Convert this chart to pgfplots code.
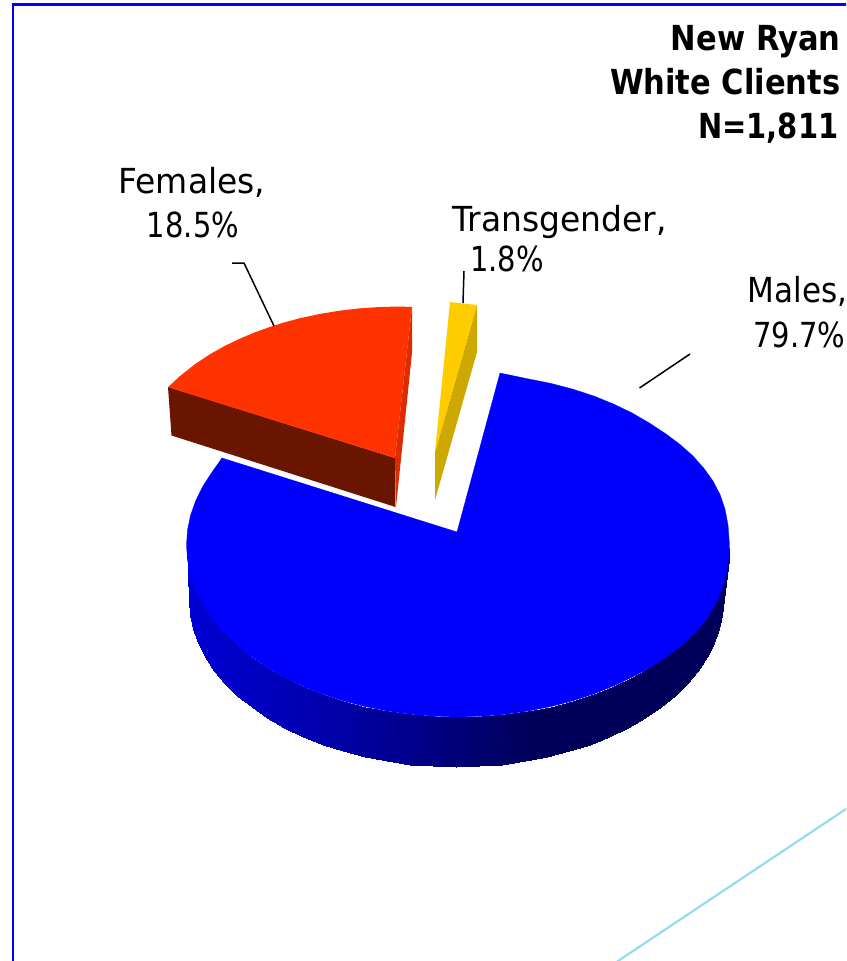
\documentclass[border=0pt]{standalone}
\usepackage{fontspec}
\setmainfont[FakeStretch=0.955,BoldFeatures={FakeStretch=0.885}]{DejaVu Sans}
\newfontfamily\numfont[FakeStretch=0.84]{DejaVu Sans}
\newfontfamily\malefont[FakeStretch=0.90]{DejaVu Sans}
\newfontfamily\boldnum[FakeStretch=0.84]{DejaVu Sans Bold}
\usepackage{pgfplots}
\pgfplotsset{compat=1.18}
\definecolor{redtop}{RGB}{255,51,0}
\definecolor{reddark}{RGB}{106,21,0}
\definecolor{redin}{RGB}{221,44,0}
\definecolor{yeltop}{RGB}{255,204,0}
\definecolor{yeldark}{RGB}{204,168,0}
\definecolor{linecol}{RGB}{140,218,243}
\begin{document}
\begin{tikzpicture}
\begin{axis}[
  name=a,
  scale only axis, width=846pt, height=961pt,
  xmin=0, xmax=846, ymin=0, ymax=961,
  y dir=reverse, hide axis, clip=true,
  colormap={blues}{rgb255(0cm)=(0,0,90); rgb255(1cm)=(0,0,215)},
  point meta min=90, point meta max=215,
  every node/.style={inner sep=0pt, outer sep=0pt},
]
% frame and stray line
\addplot[blue, line width=2.6pt] coordinates {(13,965) (13,4.5) (850,4.5)};
\addplot[linecol, line width=2pt] coordinates {(852,805) (612,965)};
% male side wall
\addplot[surf, shader=interp, mesh/rows=2, mesh/ordering=x varies, point meta=explicit] table[x=x,y=y,meta=c] {
x y c
186.5 545 215
187.5 560 214
190.6 574.9 213
195.8 589.5 211
202.9 603.8 209
211.9 617.7 206
222.9 631 202
235.6 643.7 198
250 655.6 194
266 666.6 189
283.5 676.8 184
302.3 685.9 178
322.2 694 172
343.3 700.9 165
365.1 706.6 157
387.7 711.1 149
410.9 714.4 140
434.3 716.3 130
458 717 120
481.7 716.3 110
505.1 714.4 100
528.3 711.1 92
550.9 706.6 90
572.7 700.9 90
593.8 694 90
613.7 685.9 90
632.5 676.8 90
650 666.6 90
666 655.6 90
680.4 643.7 90
693.1 631 90
704.1 617.7 90
713.1 603.8 90
720.2 589.5 90
725.4 574.9 90
728.5 560 90
729.5 545 90
189 600 215
190 614.6 214
193.1 629 213
198.1 643.2 211
205.1 657.1 209
214 670.6 206
224.8 683.5 202
237.3 695.8 198
251.5 707.4 194
267.2 718.1 189
284.4 727.9 184
302.8 736.8 178
322.5 744.6 172
343.2 751.4 165
364.7 756.9 157
386.9 761.3 149
409.6 764.5 140
432.7 766.4 130
456 767 120
479.3 766.4 110
502.4 764.5 100
525.1 761.3 92
547.3 756.9 90
568.8 751.4 90
589.5 744.6 90
609.2 736.8 90
627.6 727.9 90
644.8 718.1 90
660.5 707.4 90
674.7 695.8 90
687.2 683.5 90
698 670.6 90
706.9 657.1 90
713.9 643.2 90
718.9 629 90
722 614.6 90
723 600 90
};
% male top face
\addplot[fill=blue, draw=blue, line width=0.3pt] coordinates {
(457,532) (500,373) (528.3,378.9) (550.9,383.4) (572.7,389.1) (593.8,396) (613.7,404.1) (632.5,413.2) (650,423.4) (666,434) (680,444.5) (693,456) (704,468.5) (713,481) (720,494.5) (725,509) (728,525) (729.5,545)
(729,557) (727,571) (723,587) (717,601) (707,618.5) (693.5,634.5) (680,646.5) (666,657) (650,667.5) (632.5,677) (613.7,685.9) (593.8,694) (572.7,700.9) (550.9,706.6) (528.3,711.1) (505.1,714.4) (481.7,716.3) (458,717)
(434.3,716.3) (410.9,714.4) (387.7,711.1) (365.1,706.6) (343.3,700.9) (322.2,694) (302.3,685.9) (283.5,676.8) (266,666.6) (250,655.6) (235.6,643.7) (222.9,631) (211.9,617.7) (202.9,603.8) (195.8,589.5) (190.6,574.9) (187.5,560) (186.5,545)
(187.5,530) (190.6,515.1) (195.8,500.5) (202.9,486.2) (211.9,472.3) (222,458) (457,532)} --cycle;
% female slice
\addplot[fill=reddark, draw=none] coordinates {(168,387) (395,458) (395.5,507) (171.5,435.5)} --cycle;
\addplot[fill=redin, draw=none] coordinates {(412,307) (412,353) (396,507) (395,458)} --cycle;
\addplot[fill=redtop, draw=none] coordinates {(168,387.2) (180,376) (195,364.2) (210,354.2) (225,345.8) (240,338.6) (255,332.3) (270,326.9) (285,322.2) (300,318.2) (320,313.9) (340,310.6) (360,308.3) (380,307) (400,306.5) (412,307) (395,458)} --cycle;
% transgender slice
\addplot[fill=yeldark, draw=none] coordinates {(477,305) (477,352) (435,500) (435,452)} --cycle;
\addplot[fill=yeltop, draw=none] coordinates {(450,302) (477,305) (435,452)} --cycle;
% leader lines
\addplot[black, line width=1.5pt] coordinates {(232,263) (244,263) (274,326)};
\addplot[black, line width=1.5pt] coordinates {(464,271) (463,303)};
\addplot[black, line width=1.5pt] coordinates {(639.5,388) (690,354)};
% labels
\node[anchor=base east, font=\fontsize{34.5}{34.5}\selectfont\bfseries] at (axis cs:844,50) {New Ryan};
\node[anchor=base east, font=\fontsize{34.5}{34.5}\selectfont\bfseries] at (axis cs:844,94) {White Clients};
\node[anchor=base east, font=\fontsize{34.5}{34.5}\boldnum] at (axis cs:842,138) {N=1,811};
\node[anchor=base west, font=\fontsize{34.5}{34.5}\selectfont] at (axis cs:115,193) {Females,};
\node[anchor=base, font=\fontsize{34.5}{34.5}\numfont] at (axis cs:193,237.5) {18.5\%};
\node[anchor=base west, font=\fontsize{34.5}{34.5}\selectfont] at (axis cs:449,231) {Transgender,};
\node[anchor=base, font=\fontsize{34.5}{34.5}\numfont] at (axis cs:507,271) {1.8\%};
\node[anchor=base east, font=\fontsize{34.5}{34.5}\malefont] at (axis cs:851,302) {Males,};
\node[anchor=base east, font=\fontsize{34.5}{34.5}\numfont] at (axis cs:849,347) {79.7\%};
\end{axis}
\pgfresetboundingbox
\path[use as bounding box] (a.south west) rectangle (a.north east);
\end{tikzpicture}
\end{document}
